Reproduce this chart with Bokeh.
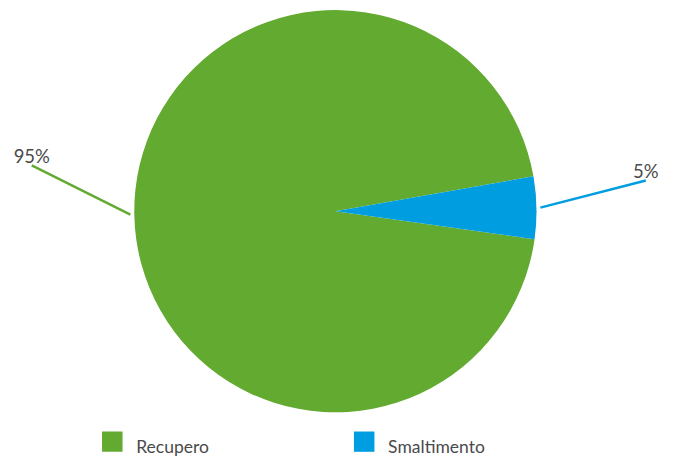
import math
from bokeh.plotting import figure
from bokeh.models import Range1d, ColumnDataSource
from bokeh.core.properties import value
from bokeh.embed import file_html
from bokeh.resources import INLINE

# ---- data ----
categories = ["Recupero", "Smaltimento"]
values = [95, 5]
labels = ["95%", "5%"]

# ---- style / layout ----
colors = ["#63AA30", "#009EE0"]
text_color = "#4a4a4a"
FONT = "Lato"
W, H = 660, 460
REF_W, REF_H = 676, 476       # layout units (the whole chart area)
CX, CY = 343, REF_H - 218     # pie centre
R = 206
START_DEG = 10.0              # first slice starts here, anticlockwise
LINE_R = 210                  # label connector start radius
label_dx = [-101, 108]        # connector elbow offsets
label_dy = [51, 28]
LABEL_GAP = 10
legend_x = [104, 362]
legend_top = REF_H - 446
legend_base = REF_H - 462
SQ = 21

p = figure(width=W, height=H, x_range=Range1d(0, REF_W), y_range=Range1d(0, REF_H),
           output_backend="svg", toolbar_location=None, min_border=0,
           x_axis_type=None, y_axis_type=None)
p.grid.visible = False
p.outline_line_color = None
p.background_fill_color = "white"
p.border_fill_color = "white"

total = float(sum(values))
starts, ends, mids = [], [], []
a = math.radians(START_DEG)
for v in values:
    span = 2 * math.pi * v / total
    starts.append(a)
    ends.append(a + span)
    mids.append(a + span / 2)
    a += span

src = ColumnDataSource(dict(start=starts, end=ends, color=colors, cat=categories))
p.wedge(x=CX, y=CY, radius=R, start_angle="start", end_angle="end",
        fill_color="color", line_color=None, source=src)

# label connectors and labels
for i, m in enumerate(mids):
    sx = CX + LINE_R * math.cos(m)
    sy = CY + LINE_R * math.sin(m)
    ex = sx + label_dx[i]
    ey = sy + label_dy[i]
    p.line([sx, ex], [sy, ey], line_color=colors[i], line_width=2.5)
    p.text(x=[ex], y=[ey + LABEL_GAP], text=[labels[i]], text_align="center",
           text_baseline="alphabetic", text_font=value(FONT),
           text_font_size="18.5px", text_color=text_color)

# legend
lx = [x + SQ / 2 for x in legend_x]
ly = [legend_top - SQ / 2 for _ in legend_x]
p.rect(x=lx, y=ly, width=SQ, height=SQ, fill_color=colors, line_color=None)
p.text(x=[x + 35 for x in legend_x], y=[legend_base for _ in legend_x], text=categories,
       text_align="left", text_baseline="alphabetic", text_font=value(FONT),
       text_font_size="17.5px", text_color=text_color)

open("out.html", "w").write(file_html(p, INLINE))
